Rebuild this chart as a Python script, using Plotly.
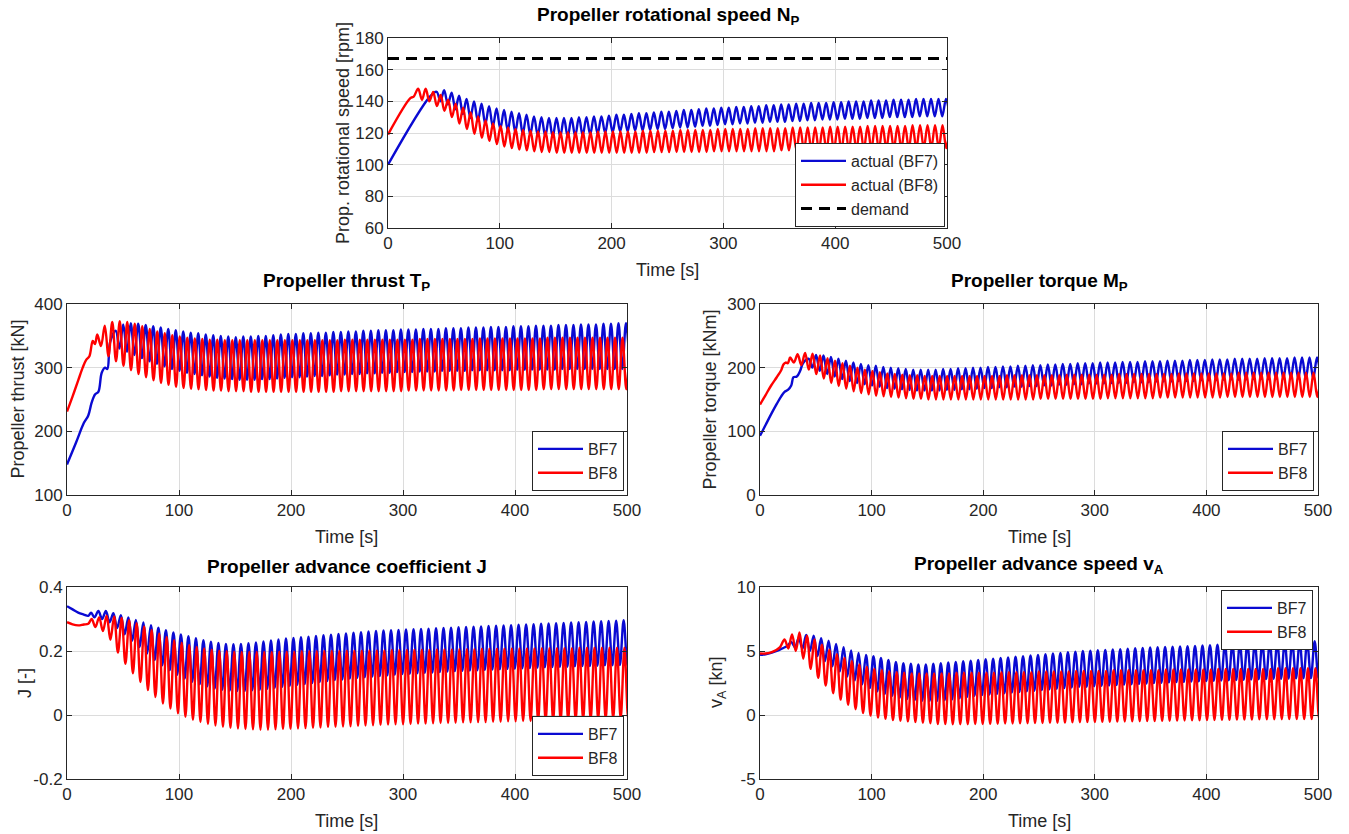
import plotly.graph_objects as go

# ---------------- data ----------------
T_OSC = 6.7  # oscillation period [s] (about 15 cycles per 100 s)

time_ticks = [0, 100, 200, 300, 400, 500]

# --- Propeller rotational speed N_P [rpm] ---
np_demand = 167
np_bf7_start_t = [0, 37.5]
np_bf7_start_v = [100, 143]
np_bf7_t0 = 43.5
np_bf7_peaks = [146, 147, 145.5, 143.5, 141.5, 140, 138.5, 137, 135.5, 134.5,
                133.5, 132.5, 131.5, 130.5, 130, 129.5, 129.5, 129.5, 129.5, 130,
                130, 130.5, 130.5, 131, 131.5, 131.5, 132, 132.5, 132.5, 133,
                133.5, 133.5, 134, 134.5, 134.5, 135, 135.5, 135.5, 136, 136,
                136.5, 136.5, 137, 137, 137.5, 137.5, 138, 138, 138.5, 138.5,
                139, 139, 139, 139.5, 139.5, 140, 140, 140, 140.5, 140.5,
                140.5, 141, 141, 141, 141.5, 141.5, 141.5, 141.5, 141.5]
np_bf7_troughs = [140, 138, 135, 132, 129.5, 127.5, 125.5, 124, 122.5, 121.5,
                  120.5, 119.5, 119, 118.5, 118, 117.5, 117.5, 117.5, 118, 118.5,
                  119, 119.5, 120, 120.5, 121, 121, 121.5, 121.5, 122, 122.5,
                  122.5, 123, 123.5, 123.5, 124, 124.5, 124.5, 125, 125.5, 125.5,
                  126, 126, 126.5, 126.5, 127, 127, 127, 127.5, 127.5, 128,
                  128, 128.5, 128.5, 128.5, 129, 129, 129, 129.5, 129.5, 129.5,
                  130, 130, 130, 130, 130.5, 130.5, 130.5, 130.5, 130.5]
np_bf8_start_t = [0, 20, 23]
np_bf8_start_v = [119, 142, 143]
np_bf8_t0 = 27
np_bf8_peaks = [148, 148, 146, 144, 141, 138.5, 136, 133, 130.5, 128,
                126, 124.5, 123.5, 122.5, 122, 121.5, 121, 121, 120.5, 120.5,
                120.5, 120.5, 120.5, 120.5, 121, 121, 121, 121, 121, 121,
                121.5, 121.5, 121.5, 121.5, 121.5, 122, 122, 122, 122, 122,
                122.5, 122.5, 122.5, 122.5, 122.5, 123, 123, 123, 123, 123,
                123.5, 123.5, 123.5, 123.5, 123.5, 124, 124, 124, 124, 124,
                124.5, 124.5, 124.5, 124.5, 124.5, 124.5, 125, 125, 125, 125, 125, 125]
np_bf8_troughs = [141, 140, 137, 134, 130, 126, 122.5, 119.5, 117, 115,
                  113, 111.5, 110.5, 109.5, 109, 108.5, 108, 108, 107.5, 107.5,
                  107.5, 107.5, 107.5, 107.5, 107.5, 107.5, 107.5, 107.5, 107.5, 107.5,
                  107.5, 108, 108, 108, 108, 108, 108, 108, 108, 108.5,
                  108.5, 108.5, 108.5, 108.5, 108.5, 108.5, 108.5, 108.5, 109, 109,
                  109, 109, 109, 109, 109, 109, 109, 109.5, 109.5, 109.5,
                  109.5, 109.5, 110, 110, 110, 110, 110, 110.5, 110.5, 110.5, 110.5]

# --- Propeller thrust T_P [kN] ---
tp_bf7_start_t = [0, 8, 15, 19, 22, 25, 28, 31, 34, 36, 38.5]
tp_bf7_start_v = [148, 182, 213, 225, 245, 258, 262, 292, 300, 298, 340]
tp_bf7_t0 = 43.5
tp_bf7_peaks = [358, 368, 370, 369, 367, 365, 363, 361, 359, 357,
                355, 354, 352, 351, 350, 349, 348, 349, 349, 350,
                350, 351, 352, 353, 353, 354, 354, 355, 355, 356,
                356, 357, 357, 358, 358, 359, 359, 359, 360, 360,
                360, 361, 361, 361, 362, 362, 362, 363, 363, 363,
                364, 364, 364, 365, 365, 365, 366, 366, 366, 367,
                367, 367, 368, 368, 368, 369, 369, 370, 370]
tp_bf7_troughs = [330, 325, 320, 315, 310, 306, 302, 298, 295, 292,
                  290, 288, 286, 284, 283, 282, 281, 281, 281, 282,
                  282, 283, 284, 285, 285, 286, 287, 287, 288, 289,
                  289, 290, 290, 291, 291, 292, 292, 293, 293, 293,
                  294, 294, 294, 295, 295, 295, 295, 296, 296, 296,
                  296, 296, 296, 297, 297, 297, 297, 297, 297, 298,
                  298, 298, 298, 298, 298, 298, 298, 298, 298]
tp_bf8_start_t = [0, 5, 10, 14, 17, 20, 23, 25]
tp_bf8_start_v = [231, 255, 280, 300, 312, 318, 342, 337]
tp_bf8_t0 = 27
tp_bf8_peaks = [352, 366, 372, 373, 372, 369, 365, 361, 357, 354,
                351, 349, 347, 346, 345, 344, 344, 343, 343, 343,
                343, 343, 343, 343, 343, 343, 343, 343, 343, 343,
                343, 343, 343, 344, 344, 344, 344, 344, 344, 344,
                344, 344, 344, 345, 345, 345, 345, 345, 345, 345,
                345, 346, 346, 346, 346, 346, 346, 346, 346, 346,
                347, 347, 347, 347, 347, 347, 347, 347, 347, 347, 347, 347]
tp_bf8_troughs = [334, 318, 310, 303, 296, 290, 285, 280, 276, 273,
                  270, 268, 267, 266, 265, 264, 264, 263, 263, 263,
                  262, 262, 262, 262, 262, 262, 262, 262, 262, 262,
                  262, 262, 263, 263, 263, 263, 263, 263, 263, 263,
                  263, 264, 264, 264, 264, 264, 264, 264, 265, 265,
                  265, 265, 265, 265, 265, 265, 265, 265, 265, 266,
                  266, 266, 266, 266, 266, 266, 266, 266, 266, 266, 266]

# --- Propeller torque M_P [kNm] ---
mp_bf7_start_t = [0, 5, 10, 15, 19, 22, 25, 28, 30, 33, 36, 38.5]
mp_bf7_start_v = [93, 110, 127, 143, 155, 162, 165, 172, 185, 186, 195, 207]
mp_bf7_t0 = 43.5
mp_bf7_peaks = [214, 220, 219, 217, 214, 211, 208, 206, 204, 203,
                201, 200, 199, 198, 197, 197, 197, 197, 198, 198,
                199, 199, 200, 200, 201, 201, 202, 202, 203, 203,
                204, 204, 205, 205, 206, 206, 207, 207, 207, 208,
                208, 208, 209, 209, 209, 210, 210, 210, 211, 211,
                211, 212, 212, 212, 213, 213, 213, 214, 214, 214,
                214, 215, 215, 215, 215, 216, 216, 216, 216]
mp_bf7_troughs = [200, 195, 190, 186, 182, 179, 176, 174, 172, 170,
                  168, 167, 166, 165, 164, 164, 164, 164, 165, 165,
                  166, 166, 167, 168, 168, 169, 169, 170, 170, 171,
                  171, 172, 172, 173, 173, 174, 174, 175, 175, 175,
                  176, 176, 176, 177, 177, 177, 178, 178, 178, 179,
                  179, 179, 180, 180, 180, 181, 181, 181, 181, 182,
                  182, 182, 182, 183, 183, 183, 183, 183, 184]
mp_bf8_start_t = [0, 5, 10, 15, 19, 21, 23, 25]
mp_bf8_start_v = [142, 157, 172, 185, 196, 205, 208, 207]
mp_bf8_t0 = 27
mp_bf8_peaks = [216, 221, 223, 222, 219, 215, 211, 207, 203, 200,
                197, 195, 193, 191, 190, 189, 188, 188, 187, 187,
                187, 187, 187, 187, 187, 187, 187, 187, 187, 188,
                188, 188, 188, 188, 188, 188, 188, 189, 189, 189,
                189, 189, 189, 189, 190, 190, 190, 190, 190, 190,
                190, 190, 191, 191, 191, 191, 191, 191, 191, 191,
                192, 192, 192, 192, 192, 192, 192, 192, 192, 192, 192, 192]
mp_bf8_troughs = [208, 204, 197, 190, 183, 176, 171, 167, 163, 160,
                  158, 156, 155, 154, 153, 152, 151, 151, 150, 150,
                  150, 150, 150, 150, 150, 150, 150, 150, 150, 150,
                  150, 150, 150, 151, 151, 151, 151, 151, 151, 151,
                  151, 151, 152, 152, 152, 152, 152, 152, 152, 153,
                  153, 153, 153, 153, 153, 153, 153, 153, 154, 154,
                  154, 154, 154, 154, 154, 154, 154, 154, 154, 154, 154]

# --- Propeller advance coefficient J [-] ---
j_ticks = [-0.2, 0, 0.2, 0.4]
j_ticktext = ["-0.2", "0", "0.2", "0.4"]
j_bf7_start_t = [0, 5, 10, 15, 19, 21.5, 24.5]
j_bf7_start_v = [0.34, 0.33, 0.32, 0.314, 0.31, 0.32, 0.305]
j_bf7_t0 = 28
j_bf7_peaks = [0.325, 0.325, 0.318, 0.312, 0.305, 0.297, 0.289, 0.281, 0.273, 0.265,
               0.258, 0.252, 0.246, 0.240, 0.234, 0.229, 0.225, 0.222, 0.221, 0.222,
               0.224, 0.227, 0.230, 0.233, 0.236, 0.239, 0.241, 0.243, 0.245, 0.247,
               0.249, 0.251, 0.253, 0.255, 0.257, 0.259, 0.261, 0.263, 0.264, 0.265,
               0.266, 0.267, 0.268, 0.269, 0.270, 0.271, 0.272, 0.273, 0.274, 0.275,
               0.276, 0.277, 0.278, 0.279, 0.280, 0.281, 0.282, 0.283, 0.284, 0.285,
               0.286, 0.287, 0.288, 0.289, 0.290, 0.291, 0.292, 0.293, 0.294, 0.295, 0.296, 0.297]
j_bf7_troughs = [0.300, 0.290, 0.272, 0.252, 0.232, 0.212, 0.192, 0.172, 0.155, 0.140,
                 0.126, 0.114, 0.104, 0.096, 0.089, 0.083, 0.079, 0.076, 0.075, 0.075,
                 0.077, 0.079, 0.082, 0.085, 0.088, 0.091, 0.094, 0.097, 0.100, 0.103,
                 0.106, 0.109, 0.111, 0.114, 0.116, 0.118, 0.120, 0.122, 0.124, 0.126,
                 0.128, 0.129, 0.130, 0.132, 0.133, 0.134, 0.136, 0.137, 0.138, 0.139,
                 0.140, 0.141, 0.142, 0.143, 0.144, 0.145, 0.146, 0.147, 0.148, 0.149,
                 0.150, 0.151, 0.151, 0.152, 0.153, 0.153, 0.154, 0.155, 0.155, 0.156, 0.156]
j_bf8_start_t = [0, 5, 10, 15, 19]
j_bf8_start_v = [0.29, 0.283, 0.28, 0.283, 0.285]
j_bf8_t0 = 22
j_bf8_peaks = [0.300, 0.305, 0.310, 0.308, 0.303, 0.296, 0.287, 0.277, 0.266, 0.255,
               0.244, 0.234, 0.226, 0.219, 0.213, 0.208, 0.204, 0.201, 0.199, 0.198,
               0.197, 0.197, 0.197, 0.197, 0.197, 0.198, 0.198, 0.198, 0.199, 0.199,
               0.199, 0.200, 0.200, 0.200, 0.201, 0.201, 0.201, 0.202, 0.202, 0.202,
               0.203, 0.203, 0.203, 0.204, 0.204, 0.204, 0.205, 0.205, 0.205, 0.206,
               0.206, 0.206, 0.207, 0.207, 0.207, 0.207, 0.208, 0.208, 0.208, 0.208,
               0.209, 0.209, 0.209, 0.209, 0.209, 0.210, 0.210, 0.210, 0.210, 0.210,
               0.210, 0.210, 0.210]
j_bf8_troughs = [0.275, 0.262, 0.235, 0.195, 0.160, 0.130, 0.103, 0.078, 0.056, 0.036,
                 0.020, 0.005, -0.006, -0.015, -0.022, -0.028, -0.033, -0.037, -0.040, -0.042,
                 -0.044, -0.045, -0.046, -0.046, -0.045, -0.044, -0.043, -0.042, -0.041, -0.040,
                 -0.039, -0.038, -0.037, -0.036, -0.035, -0.034, -0.033, -0.032, -0.031, -0.030,
                 -0.029, -0.029, -0.028, -0.027, -0.027, -0.026, -0.025, -0.025, -0.024, -0.023,
                 -0.023, -0.022, -0.022, -0.021, -0.021, -0.020, -0.020, -0.019, -0.019, -0.018,
                 -0.018, -0.017, -0.017, -0.016, -0.016, -0.015, -0.015, -0.014, -0.014, -0.013,
                 -0.013, -0.012]

# --- Propeller advance speed v_A [kn] ---
va_ticks = [-5, 0, 5, 10]
va_ticktext = ["-5", "0", "5", "10"]
va_bf7_start_t = [0, 5, 10, 15, 20, 24.5]
va_bf7_start_v = [4.7, 4.75, 4.85, 5.0, 5.2, 5.4]
va_bf7_t0 = 28
va_bf7_peaks = [5.7, 6.0, 6.25, 6.2, 6.0, 5.8, 5.55, 5.3, 5.05, 4.85,
                4.7, 4.6, 4.45, 4.3, 4.15, 4.05, 4.0, 3.95, 3.95, 4.0,
                4.05, 4.1, 4.15, 4.2, 4.25, 4.3, 4.35, 4.4, 4.45, 4.5,
                4.55, 4.6, 4.65, 4.7, 4.75, 4.8, 4.85, 4.9, 4.95, 5.0,
                5.03, 5.06, 5.09, 5.12, 5.15, 5.18, 5.21, 5.24, 5.27, 5.3,
                5.32, 5.34, 5.36, 5.38, 5.4, 5.43, 5.46, 5.49, 5.52, 5.55,
                5.57, 5.59, 5.61, 5.63, 5.65, 5.67, 5.69, 5.71, 5.73, 5.75, 5.77, 5.79]
va_bf7_troughs = [5.3, 5.2, 5.0, 4.6, 4.2, 3.8, 3.4, 3.0, 2.7, 2.4,
                  2.1, 1.85, 1.65, 1.5, 1.35, 1.25, 1.15, 1.1, 1.1, 1.1,
                  1.15, 1.2, 1.3, 1.4, 1.5, 1.55, 1.6, 1.65, 1.7, 1.75,
                  1.8, 1.85, 1.9, 1.95, 2.0, 2.05, 2.1, 2.15, 2.2, 2.2,
                  2.25, 2.28, 2.31, 2.34, 2.37, 2.4, 2.43, 2.46, 2.49, 2.52,
                  2.55, 2.57, 2.59, 2.61, 2.63, 2.65, 2.67, 2.69, 2.71, 2.73,
                  2.75, 2.77, 2.79, 2.8, 2.82, 2.83, 2.85, 2.86, 2.87, 2.88, 2.9]
va_bf8_start_t = [0, 5, 10, 15, 18]
va_bf8_start_v = [4.8, 4.8, 4.9, 5.1, 5.3]
va_bf8_t0 = 22
va_bf8_peaks = [5.9, 6.3, 6.45, 6.2, 5.9, 5.5, 5.1, 4.75, 4.45, 4.2,
                3.95, 3.75, 3.6, 3.5, 3.4, 3.35, 3.3, 3.25, 3.25, 3.25,
                3.25, 3.25, 3.25, 3.3, 3.3, 3.3, 3.3, 3.3, 3.3, 3.35,
                3.35, 3.35, 3.35, 3.35, 3.4, 3.4, 3.4, 3.4, 3.4, 3.45,
                3.45, 3.45, 3.45, 3.45, 3.5, 3.5, 3.5, 3.5, 3.5, 3.5,
                3.5, 3.55, 3.55, 3.55, 3.55, 3.55, 3.55, 3.55, 3.6, 3.6,
                3.6, 3.6, 3.6, 3.6, 3.6, 3.6, 3.65, 3.65, 3.65, 3.65,
                3.65, 3.65, 3.65]
va_bf8_troughs = [5.2, 5.0, 4.4, 3.6, 2.9, 2.3, 1.7, 1.2, 0.8, 0.45,
                  0.15, -0.05, -0.2, -0.3, -0.4, -0.45, -0.5, -0.55, -0.6, -0.65,
                  -0.7, -0.7, -0.72, -0.72, -0.72, -0.7, -0.7, -0.69, -0.68, -0.67,
                  -0.66, -0.65, -0.64, -0.63, -0.62, -0.61, -0.6, -0.59, -0.58, -0.57,
                  -0.56, -0.55, -0.54, -0.53, -0.52, -0.51, -0.5, -0.49, -0.48, -0.47,
                  -0.46, -0.45, -0.44, -0.43, -0.42, -0.41, -0.4, -0.39, -0.38, -0.37,
                  -0.36, -0.35, -0.35, -0.34, -0.34, -0.33, -0.33, -0.32, -0.32, -0.31,
                  -0.31, -0.3]


# ---------------- build ----------------
def series(start_t, start_v, t0, peaks, troughs):
    t, v = list(start_t), list(start_v)
    for k, p in enumerate(peaks):
        t.append(t0 + k * T_OSC)
        v.append(p)
        if k < len(troughs):
            t.append(t0 + (k + 0.5) * T_OSC)
            v.append(troughs[k])
    return t, v


BLUE = "#0A0AD2"
RED = "#FF0000"
FONT = "Liberation Sans, Arial, Helvetica, sans-serif"
TXT = "#262626"
W, H = 1349, 834


def px_x(p):
    return p / W


def px_y(p):
    return 1 - p / H


# plot boxes in pixels: (left, right, top, bottom)
boxes = {
    1: (388, 947, 38, 228),
    2: (67, 627, 304, 495),
    3: (760, 1318, 304, 495),
    4: (67, 627, 587, 779),
    5: (760, 1318, 587, 779),
}
# centre positions (pixels) of the y-axis titles
ytitle_x = {1: 343, 2: 17, 3: 709, 4: 25, 5: 717}

fig = go.Figure()

panels = [
    (1, [(np_bf7_start_t, np_bf7_start_v, np_bf7_t0, np_bf7_peaks, np_bf7_troughs, "actual (BF7)", BLUE),
         (np_bf8_start_t, np_bf8_start_v, np_bf8_t0, np_bf8_peaks, np_bf8_troughs, "actual (BF8)", RED)]),
    (2, [(tp_bf7_start_t, tp_bf7_start_v, tp_bf7_t0, tp_bf7_peaks, tp_bf7_troughs, "BF7", BLUE),
         (tp_bf8_start_t, tp_bf8_start_v, tp_bf8_t0, tp_bf8_peaks, tp_bf8_troughs, "BF8", RED)]),
    (3, [(mp_bf7_start_t, mp_bf7_start_v, mp_bf7_t0, mp_bf7_peaks, mp_bf7_troughs, "BF7", BLUE),
         (mp_bf8_start_t, mp_bf8_start_v, mp_bf8_t0, mp_bf8_peaks, mp_bf8_troughs, "BF8", RED)]),
    (4, [(j_bf7_start_t, j_bf7_start_v, j_bf7_t0, j_bf7_peaks, j_bf7_troughs, "BF7", BLUE),
         (j_bf8_start_t, j_bf8_start_v, j_bf8_t0, j_bf8_peaks, j_bf8_troughs, "BF8", RED)]),
    (5, [(va_bf7_start_t, va_bf7_start_v, va_bf7_t0, va_bf7_peaks, va_bf7_troughs, "BF7", BLUE),
         (va_bf8_start_t, va_bf8_start_v, va_bf8_t0, va_bf8_peaks, va_bf8_troughs, "BF8", RED)]),
]

for idx, traces in panels:
    ax = "" if idx == 1 else str(idx)
    leg = "legend" if idx == 1 else f"legend{idx}"
    for st, sv, t0, pk, tr, name, col in traces:
        t, v = series(st, sv, t0, pk, tr)
        fig.add_trace(go.Scatter(
            x=t, y=v, mode="lines", name=name,
            line=dict(color=col, width=2.4, shape="spline", smoothing=1.0),
            xaxis="x" + ax, yaxis="y" + ax, legend=leg, showlegend=True))
    if idx == 1:
        fig.add_trace(go.Scatter(
            x=[0, 500], y=[np_demand, np_demand], mode="lines", name="demand",
            line=dict(color="black", width=3, dash="11px,7px"),
            xaxis="x", yaxis="y", legend="legend"))

y_specs = {
    1: dict(range=[60, 180], tickvals=[60, 80, 100, 120, 140, 160, 180],
            title="Prop. rotational speed [rpm]"),
    2: dict(range=[100, 400], tickvals=[100, 200, 300, 400], title="Propeller thrust [kN]"),
    3: dict(range=[0, 300], tickvals=[0, 100, 200, 300], title="Propeller torque [kNm]"),
    4: dict(range=[-0.2, 0.4], tickvals=j_ticks, ticktext=j_ticktext, title="J [-]"),
    5: dict(range=[-5, 10], tickvals=va_ticks, ticktext=va_ticktext, title="v<sub>A</sub> [kn]"),
}
titles = {
    1: "<b>Propeller rotational speed N<sub>P</sub></b>",
    2: "<b>Propeller thrust T<sub>P</sub></b>",
    3: "<b>Propeller torque M<sub>P</sub></b>",
    4: "<b>Propeller advance coefficient J</b>",
    5: "<b>Propeller advance speed v<sub>A</sub></b>",
}

common_axis = dict(
    showline=True, linecolor=TXT, linewidth=1, mirror="ticks",
    ticks="inside", ticklen=5, tickcolor=TXT, tickwidth=1,
    showgrid=True, gridcolor="#DCDCDC", gridwidth=1, zeroline=False,
    tickfont=dict(family=FONT, size=17, color=TXT), automargin=False,
)

layout = dict(
    width=W, height=H, paper_bgcolor="white", plot_bgcolor="white",
    margin=dict(l=0, r=0, t=0, b=0, autoexpand=False), font=dict(family=FONT, color=TXT),
    annotations=[],
)
legend_pos = {
    1: dict(x=px_x(945), y=px_y(227), xanchor="right", yanchor="bottom"),
    2: dict(x=px_x(624), y=px_y(491), xanchor="right", yanchor="bottom"),
    3: dict(x=px_x(1314), y=px_y(491), xanchor="right", yanchor="bottom"),
    4: dict(x=px_x(624), y=px_y(776), xanchor="right", yanchor="bottom"),
    5: dict(x=px_x(1313), y=px_y(590), xanchor="right", yanchor="top"),
}

for idx in range(1, 6):
    l, r, t, b = boxes[idx]
    ax = "" if idx == 1 else str(idx)
    xa = dict(common_axis)
    xa.update(domain=[px_x(l), px_x(r)], range=[0, 500], tickvals=time_ticks,
              anchor="y" + ax)
    ys = y_specs[idx]
    ya = dict(common_axis)
    ya.update(domain=[px_y(b), px_y(t)], range=ys["range"], tickvals=ys["tickvals"],
              anchor="x" + ax)
    if "ticktext" in ys:
        ya["ticktext"] = ys["ticktext"]
    layout["xaxis" + ax] = xa
    layout["yaxis" + ax] = ya
    # subplot title
    layout["annotations"].append(dict(
        text=titles[idx], xref="paper", yref="paper",
        x=px_x((l + r) / 2), y=px_y(t - 8), xanchor="center", yanchor="bottom",
        showarrow=False, font=dict(family=FONT, size=19, color="black")))
    # x-axis title
    layout["annotations"].append(dict(
        text="Time [s]", xref="paper", yref="paper",
        x=px_x((l + r) / 2), y=px_y(b + 30), xanchor="center", yanchor="top",
        showarrow=False, font=dict(family=FONT, size=18, color=TXT)))
    # y-axis title
    layout["annotations"].append(dict(
        text=ys["title"], xref="paper", yref="paper", textangle=-90,
        x=px_x(ytitle_x[idx]), y=px_y((t + b) / 2), xanchor="center", yanchor="middle",
        showarrow=False, font=dict(family=FONT, size=18, color=TXT)))
    lg = dict(legend_pos[idx])
    lg.update(bgcolor="white", bordercolor=TXT, borderwidth=1,
              font=dict(family=FONT, size=16, color=TXT), itemwidth=45,
              tracegroupgap=0)
    layout["legend" if idx == 1 else f"legend{idx}"] = lg

fig.update_layout(**layout)
# remove the browser's default 8 px page margin so the figure sits at (0, 0)
fig.write_html("out.html",
               config={"displayModeBar": False},
               post_script="document.body.style.margin='0';"
                           "document.body.style.overflow='hidden';")
